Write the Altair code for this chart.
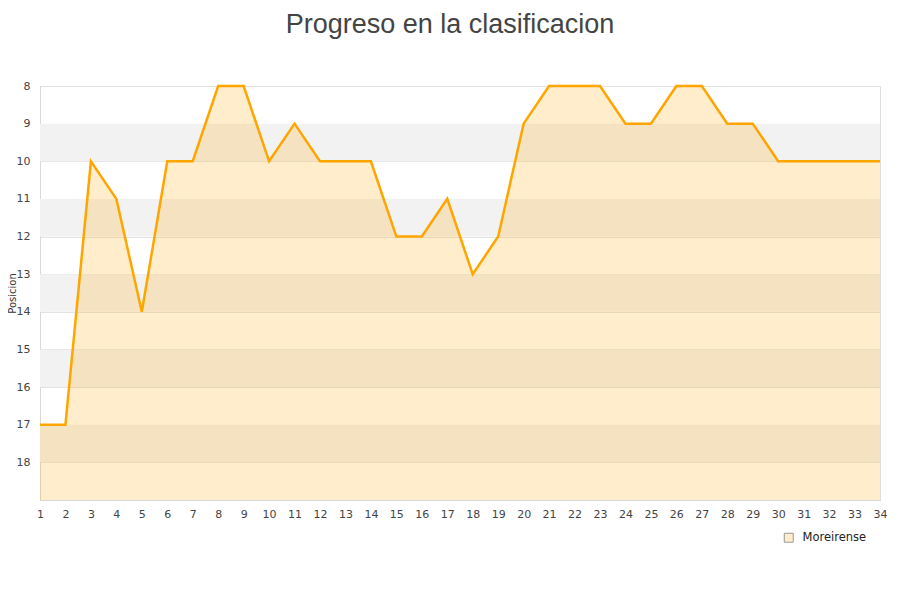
import altair as alt
import pandas as pd

jornadas = list(range(1, 35))
posicion = [17, 17, 10, 11, 14, 10, 10, 8, 8, 10, 9, 10, 10, 10, 12, 12, 11, 13, 12, 9,
            8, 8, 8, 9, 9, 8, 8, 9, 9, 10, 10, 10, 10, 10]
team = "Moreirense"
band_start = [9, 11, 13, 15, 17]
band_end = [10, 12, 14, 16, 18]
y_ticks = list(range(8, 19))

df = pd.DataFrame({"jornada": jornadas, "pos": posicion, "team": team, "base": 19})
bands = pd.DataFrame({"y1": band_start, "y2": band_end})

yscale = alt.Scale(domain=[8, 19], reverse=True, nice=False, zero=False)
xscale = alt.Scale(domain=[1, 34], nice=False, zero=False)

band_layer = alt.Chart(bands).mark_rect(color="#F2F2F2").encode(
    x=alt.value(0), x2=alt.value(840),
    y=alt.Y("y1:Q", scale=yscale,
            axis=alt.Axis(values=y_ticks, title="Posicion", grid=True, gridColor="#E3E3E3",
                          tickSize=0, labelPadding=10, labelFontSize=11, labelColor="#444",
                          titleFontSize=10, titleFontWeight="normal", titleColor="#333",
                          titleX=-23, titleY=207, titleAngle=270, titleAlign="center",
                          titleBaseline="bottom", domainColor="#D9D9D9")),
    y2="y2:Q",
)

xaxis = alt.Axis(values=jornadas, title=None, grid=False, tickSize=0, labelPadding=8,
                 labelFontSize=11, labelColor="#444", labelAngle=0, domainColor="#D9D9D9",
                 labelFlush=False, labelOverlap=False)

area = alt.Chart(df).mark_area(interpolate="linear").encode(
    x=alt.X("jornada:Q", scale=xscale, axis=xaxis),
    y=alt.Y("pos:Q", scale=yscale),
    y2="base:Q",
    fill=alt.Fill("team:N", scale=alt.Scale(domain=[team], range=["rgba(255,165,0,0.2)"]),
                  legend=alt.Legend(title=None, orient="none", legendX=743, legendY=446,
                                    symbolType="square", symbolSize=80,
                                    symbolStrokeColor="#999", symbolStrokeWidth=1,
                                    labelFontSize=11.5, labelColor="#222", padding=0,
                                    labelOffset=8)),
)

line = alt.Chart(df).mark_line(color="#FFA500", strokeWidth=2.5).encode(
    x=alt.X("jornada:Q", scale=xscale, axis=xaxis),
    y=alt.Y("pos:Q", scale=yscale),
)

chart = alt.layer(band_layer, area, line).properties(
    width=840, height=414,
    title=alt.TitleParams("Progreso en la clasificacion", fontSize=27, fontWeight="normal",
                          color="#444", anchor="middle", offset=41, dx=-10,
                          font="Liberation Sans"),
    autosize=alt.AutoSizeParams(type="none"),
    padding={"left": 32, "top": 78, "right": 12, "bottom": 70},
).configure_view(stroke="#DDDDDD").configure(font="DejaVu Sans").configure_axisX(labelOverlap=False)

chart.save("out.html", embed_options={"renderer": "svg", "actions": False})
